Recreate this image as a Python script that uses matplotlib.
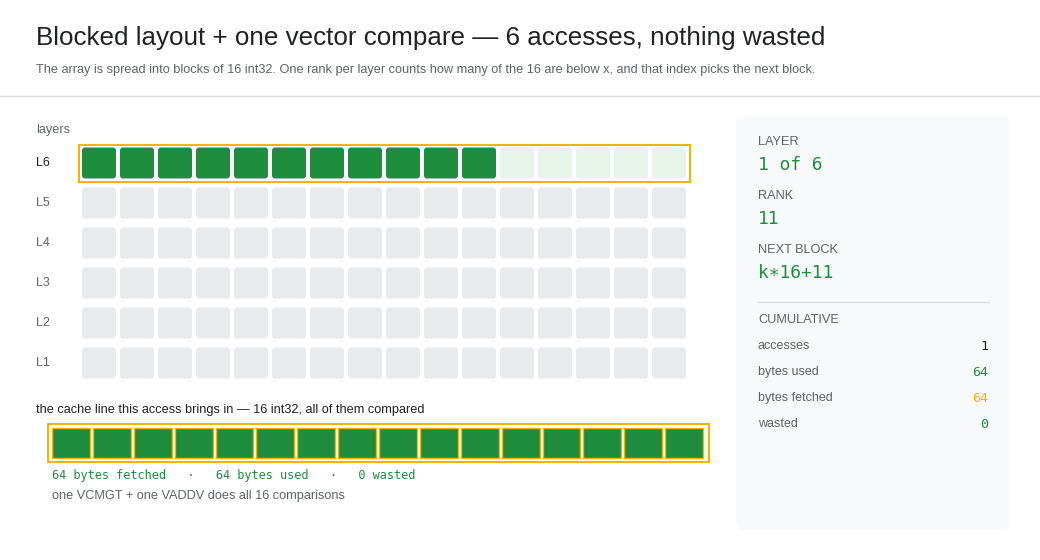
import matplotlib.pyplot as plt
from matplotlib.patches import FancyBboxPatch, Rectangle

plt.rcParams['font.family'] = ['Liberation Sans', 'DejaVu Sans']

layers = ["L6", "L5", "L4", "L3", "L2", "L1"]
n_lanes = 16
rank = 11
active_layer = "L6"
cache_stats = ["64 bytes fetched", "64 bytes used", "0 wasted"]
cum_labels = ["accesses", "bytes used", "bytes fetched", "wasted"]
cum_values = ["1", "64", "64", "0"]

GREEN = "#1e8e3e"
LIGHT_GREEN = "#e6f4ea"
GRAY = "#e8eaed"
ORANGE = "#f4b400"
TXT = "#202124"
SUB = "#5f6368"
MONO = ["DejaVu Sans Mono"]

fig = plt.figure(figsize=(10.4, 5.6), dpi=100)
ax = fig.add_axes([0, 0, 1, 1])
ax.set_xlim(0, 1040)
ax.set_ylim(560, 0)
ax.axis("off")

def rbox(x, y, w, h, fc, ec="none", lw=0, r=3):
    ax.add_patch(FancyBboxPatch((x + r, y + r), w - 2 * r, h - 2 * r,
                                boxstyle=f"round,pad={r}", fc=fc, ec=ec, lw=lw))

# header
ax.text(36, 38, "Blocked layout + one vector compare — 6 accesses, nothing wasted",
        fontsize=18.7, color=TXT, va="center")
ax.text(36, 70, "The array is spread into blocks of 16 int32. One rank per layer counts how many "
        "of the 16 are below x, and that index picks the next block.",
        fontsize=9.2, color=SUB, va="center")
ax.plot([0, 1040], [96, 96], color="#dadce0", lw=1)

# layer grid
ax.text(36, 130, "layers", fontsize=9.2, color=SUB, va="center")
x0, pitch, cw, ch = 82, 38, 34, 31
for i, name in enumerate(layers):
    yc = 163 + 40 * i
    active = name == active_layer
    ax.text(36, yc, name, fontsize=9, color=TXT if active else SUB, va="center")
    for j in range(n_lanes):
        if active:
            fc = GREEN if j < rank else LIGHT_GREEN
        else:
            fc = GRAY
        rbox(x0 + j * pitch, yc - ch / 2, cw, ch, fc)
    if active:
        ax.add_patch(Rectangle((79, yc - 18), 611, 37, fc="none", ec=ORANGE, lw=1.5))

# cache line
ax.text(36, 410, "the cache line this access brings in — 16 int32, all of them compared",
        fontsize=9.2, color=TXT, va="center")
ax.add_patch(Rectangle((48, 424), 661, 38, fc="none", ec=ORANGE, lw=1.5))
cp = 654 / 16
for j in range(n_lanes):
    ax.add_patch(Rectangle((52 + j * cp, 428), cp - 3, 30, fc=GREEN, ec=ORANGE, lw=1))
ax.text(52, 476, "   ·   ".join(cache_stats), family=MONO,
        fontsize=8.6, color=GREEN, va="center")
ax.text(52, 496, "one VCMGT + one VADDV does all 16 comparisons",
        fontsize=9.2, color=SUB, va="center")

# side panel
rbox(736, 116, 274, 414, "#f8f9fa", r=8)
mono = dict(family=MONO, color=GREEN, va="center")
lab = dict(fontsize=9.2, color=SUB, va="center")
ax.text(758, 142, "LAYER", **lab)
ax.text(758, 165, f"1 of {len(layers)}", fontsize=12.9, **mono)
ax.text(758, 196, "RANK", **lab)
ax.text(758, 219, str(rank), fontsize=12.9, **mono)
ax.text(758, 250, "NEXT BLOCK", **lab)
ax.text(758, 273, f"k∗16+{rank}", fontsize=12.9, **mono)
ax.plot([758, 989], [302, 302], color="#dadce0", lw=1)
ax.text(758, 320, "CUMULATIVE", **lab)
val_colors = [TXT, GREEN, ORANGE, GREEN]
for k, (l, v) in enumerate(zip(cum_labels, cum_values)):
    y = 346 + 26 * k
    ax.text(758, y, l, fontsize=9, color=SUB, va="center")
    ax.text(988, y, v, family=MONO, fontsize=9.6,
            color=val_colors[k], va="center", ha="right")

fig.savefig("out.png", dpi=100)
